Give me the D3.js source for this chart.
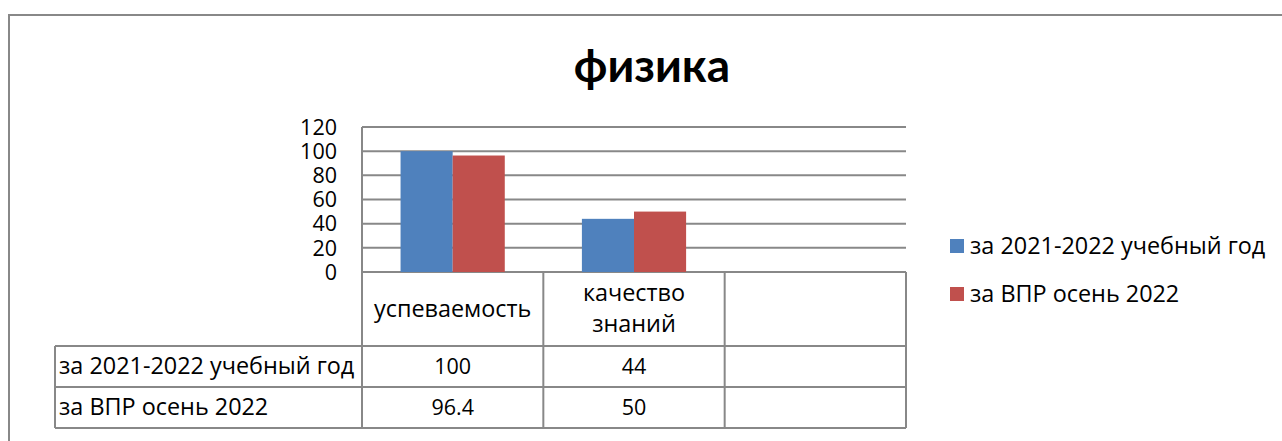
<!DOCTYPE html>
<html>
<head>
<meta charset="utf-8">
<script src="https://cdn.jsdelivr.net/npm/d3@7/dist/d3.min.js"></script>
<style>
  body { margin: 0; background: #fff; }
  text { font-family: "Open Sans", Lato, sans-serif; fill: #000; }
  .title { font-family: Lato, "Open Sans", sans-serif; }
</style>
</head>
<body>
<svg id="chart" width="1282" height="441"></svg>
<script>
// data
const title = "физика";
const categories = ["успеваемость", "качество\nзнаний", ""];
const seriesNames = ["за 2021-2022 учебный год", "за ВПР осень 2022"];
const series2122 = [100, 44, null];
const seriesVpr = [96.4, 50, null];
const yTicks = [0, 20, 40, 60, 80, 100, 120];
const colors = ["#4f81bd", "#c0504d"];

const seriesValues = [series2122, seriesVpr];
const gridColor = "#888888";
const wordSize = "23.4px";   // Calibri's cyrillic runs wider than Open Sans
const numSize = "21.5px";

let svg = d3.select("#chart");

// chart frame
svg.append("path")
  .attr("d", "M9,441 V15 H1282")
  .attr("fill", "none")
  .attr("stroke", gridColor)
  .attr("stroke-width", 2);

svg.append("text")
  .attr("class", "title")
  .attr("x", 652)
  .attr("y", 82)
  .attr("text-anchor", "middle")
  .style("font-size", "46px")
  .style("font-weight", "bold")
  .text(title);

let plot = {left: 362, right: 906, top: 127, bottom: 272};

let x = d3.scaleBand()
  .domain(d3.range(categories.length))
  .range([plot.left, plot.right]);

let xSub = d3.scaleBand()
  .domain(d3.range(seriesNames.length))
  .range([0, x.bandwidth()])
  .paddingOuter(0.74);

let y = d3.scaleLinear()
  .domain([0, 120])
  .range([plot.bottom, plot.top]);

// gridlines
svg.append("g").selectAll("line")
  .data(yTicks)
  .enter().append("line")
  .attr("x1", plot.left)
  .attr("x2", plot.right)
  .attr("y1", d => y(d))
  .attr("y2", d => y(d))
  .attr("stroke", gridColor)
  .attr("stroke-width", 2);

// y axis labels
svg.append("g").selectAll("text")
  .data(yTicks)
  .enter().append("text")
  .attr("x", 337)
  .attr("y", d => y(d))
  .attr("dy", "0.36em")
  .attr("text-anchor", "end")
  .style("font-size", numSize)
  .text(d => d);

// bars
seriesValues.forEach(function(vals, s) {
  svg.append("g").selectAll("rect")
    .data(vals.map((v, i) => ({v: v, i: i})).filter(d => d.v != null))
    .enter().append("rect")
    .attr("x", d => x(d.i) + xSub(s))
    .attr("width", xSub.bandwidth())
    .attr("y", d => y(d.v))
    .attr("height", d => y(0) - y(d.v))
    .attr("fill", colors[s]);
});

// data table
let rowTop = plot.bottom, headerBottom = 346, rowH = 41;
let tableBottom = headerBottom + rowH * seriesNames.length;
let labelLeft = 55;

let tbl = svg.append("g")
  .attr("stroke", gridColor)
  .attr("stroke-width", 2);

// plot left edge running down into the table
tbl.append("line")
  .attr("x1", plot.left).attr("x2", plot.left)
  .attr("y1", plot.top).attr("y2", tableBottom);

x.domain().forEach(function(i) {
  tbl.append("line")
    .attr("x1", x(i) + x.bandwidth()).attr("x2", x(i) + x.bandwidth())
    .attr("y1", rowTop).attr("y2", tableBottom);
});

d3.range(seriesNames.length + 1).forEach(function(r) {
  let yy = headerBottom + r * rowH;
  tbl.append("line")
    .attr("x1", labelLeft).attr("x2", plot.right)
    .attr("y1", yy).attr("y2", yy);
});

tbl.append("line")
  .attr("x1", labelLeft).attr("x2", labelLeft)
  .attr("y1", headerBottom).attr("y2", tableBottom);

// header labels
categories.forEach(function(c, i) {
  let lines = c.split("\n").filter(l => l.length);
  let midY = (rowTop + headerBottom) / 2;
  let lineH = 31;
  lines.forEach(function(l, k) {
    svg.append("text")
      .attr("x", x(i) + x.bandwidth() / 2)
      .attr("y", midY + (k - (lines.length - 1) / 2) * lineH)
      .attr("dy", "0.34em")
      .attr("text-anchor", "middle")
      .style("font-size", wordSize)
      .text(l);
  });
});

// series rows
seriesNames.forEach(function(name, s) {
  let cy = headerBottom + s * rowH + rowH / 2;
  svg.append("text")
    .attr("x", labelLeft + 4)
    .attr("y", cy)
    .attr("dy", "0.34em")
    .style("font-size", wordSize)
    .text(name);
  seriesValues[s].forEach(function(v, i) {
    if (v == null) return;
    svg.append("text")
      .attr("x", x(i) + x.bandwidth() / 2)
      .attr("y", cy)
      .attr("dy", "0.36em")
      .attr("text-anchor", "middle")
      .style("font-size", numSize)
      .text(v);
  });
});

// legend
let legend = svg.append("g").selectAll("g")
  .data(seriesNames)
  .enter().append("g")
  .attr("transform", (d, i) => "translate(950," + (246 + i * 48) + ")");

legend.append("rect")
  .attr("x", 0).attr("y", -7)
  .attr("width", 14).attr("height", 14)
  .attr("fill", (d, i) => colors[i]);

legend.append("text")
  .attr("x", 20)
  .attr("dy", "0.34em")
  .style("font-size", wordSize)
  .text(d => d);
</script>
</body>
</html>
